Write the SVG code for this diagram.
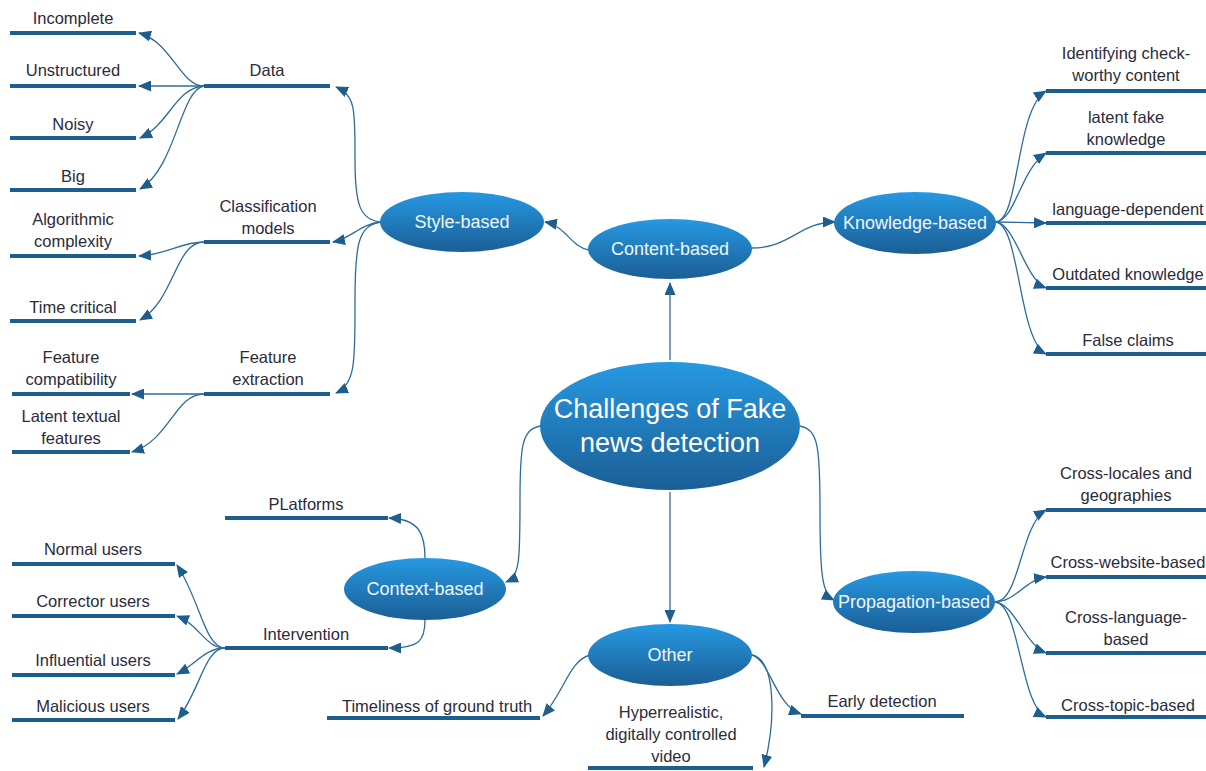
<svg xmlns="http://www.w3.org/2000/svg" width="1206" height="771" viewBox="0 0 1206 771">
<defs>
<linearGradient id="g" x1="0" y1="0" x2="0" y2="1">
<stop offset="0" stop-color="#2699e2"/>
<stop offset="1" stop-color="#1b5e95"/>
</linearGradient>
<marker id="ah" markerUnits="userSpaceOnUse" markerWidth="13" markerHeight="11" refX="12" refY="5.5" orient="auto" viewBox="0 0 13 11">
<path d="M0,0 L13,5.5 L0,11 z" fill="#1d5e8c"/>
</marker>
<style>
.bar{stroke:#1d5e8c;stroke-width:4;fill:none}
.c{stroke:#2e6c9c;stroke-width:1.3;fill:none;marker-end:url(#ah)}
.t{font-family:"Liberation Sans",Arial,sans-serif;font-size:16.5px;fill:#2b2b3b;text-anchor:middle}
.e{fill:url(#g)}
.et{font-family:"Liberation Sans",Arial,sans-serif;font-size:18px;fill:#eef6ff;text-anchor:middle}
.mt{font-family:"Liberation Sans",Arial,sans-serif;font-size:27px;fill:#ffffff;text-anchor:middle}
</style>
</defs>
<rect width="1206" height="771" fill="#ffffff"/>

<g id="connectors">
<path class="c" d="M670,360 L670,283"/>
<path class="c" d="M670,492 L670,622"/>
<path class="c" d="M540,426 C522,430 520,445 520,500 C520,560 520,576 506,582"/>
<path class="c" d="M800,426 C818,430 820,445 820,510 C820,575 822,594 834,600"/>
<path class="c" d="M589,250 C572,248 566,226 545,222"/>
<path class="c" d="M752,248 C790,248 800,222 835,222"/>
<path class="c" d="M381,222 C360,220 355,205 355,160 C355,110 356,96 336,87"/>
<path class="c" d="M381,222 C360,224 352,238 333,242"/>
<path class="c" d="M381,222 C358,225 355,245 355,300 C355,360 356,384 336,393"/>
<path class="c" d="M204,86 C180,86 172,42 139,33"/>
<path class="c" d="M204,86 L139,86"/>
<path class="c" d="M204,86 C175,88 170,124 140,138"/>
<path class="c" d="M204,86 C180,90 176,168 140,189"/>
<path class="c" d="M204,242 C180,242 170,254 139,256"/>
<path class="c" d="M204,242 C175,242 175,300 140,320"/>
<path class="c" d="M204,394 L132,394"/>
<path class="c" d="M204,394 C175,394 170,440 132,452"/>
<path class="c" d="M995,222 C1020,222 1015,110 1046,91"/>
<path class="c" d="M995,222 C1015,222 1020,170 1046,153"/>
<path class="c" d="M995,222 L1046,223"/>
<path class="c" d="M995,222 C1015,222 1025,280 1046,288"/>
<path class="c" d="M995,222 C1020,222 1018,340 1046,354"/>
<path class="c" d="M995,602 C1020,602 1020,525 1046,510"/>
<path class="c" d="M995,602 C1015,602 1025,580 1046,577"/>
<path class="c" d="M995,602 C1015,604 1025,645 1046,653"/>
<path class="c" d="M995,602 C1020,604 1020,705 1046,717"/>
<path class="c" d="M425,558 C425,535 420,519 389,518"/>
<path class="c" d="M425,620 C425,640 420,648 389,648"/>
<path class="c" d="M225,648 C205,648 200,600 177,565"/>
<path class="c" d="M225,648 C205,648 200,625 177,616"/>
<path class="c" d="M225,648 C205,648 195,665 177,674"/>
<path class="c" d="M225,648 C205,648 200,690 178,719"/>
<path class="c" d="M590,655 C570,660 565,690 543,716"/>
<path class="c" d="M752,655 C770,660 775,705 801,714"/>
<path class="c" d="M752,655 C776,660 776,720 764,767"/>
</g>

<g id="n-main"><ellipse class="e" cx="670" cy="426" rx="130" ry="64"/><text class="mt" x="670" y="418">Challenges of Fake</text><text class="mt" x="670" y="452">news detection</text></g>
<g id="n-content"><ellipse class="e" cx="670" cy="249" rx="82" ry="30"/><text class="et" x="670" y="255">Content-based</text></g>
<g id="n-style"><ellipse class="e" cx="462" cy="222" rx="82" ry="30"/><text class="et" x="462" y="228">Style-based</text></g>
<g id="n-knowledge"><ellipse class="e" cx="915" cy="223" rx="81" ry="31"/><text class="et" x="915" y="229">Knowledge-based</text></g>
<g id="n-context"><ellipse class="e" cx="425" cy="589" rx="81" ry="31"/><text class="et" x="425" y="595">Context-based</text></g>
<g id="n-propagation"><ellipse class="e" cx="914" cy="602" rx="81" ry="31"/><text class="et" x="914" y="608">Propagation-based</text></g>
<g id="n-other"><ellipse class="e" cx="670" cy="655" rx="82" ry="31"/><text class="et" x="670" y="661">Other</text></g>

<g id="n-data"><line class="bar" x1="204" y1="86" x2="330" y2="86"/><text class="t" x="267" y="76">Data</text></g>
<g id="n-classification"><line class="bar" x1="204" y1="242" x2="330" y2="242"/><text class="t" x="268" y="212">Classification</text><text class="t" x="268" y="234">models</text></g>
<g id="n-featext"><line class="bar" x1="204" y1="394" x2="330" y2="394"/><text class="t" x="268" y="363">Feature</text><text class="t" x="268" y="385">extraction</text></g>

<g id="n-incomplete"><line class="bar" x1="10" y1="33" x2="136" y2="33"/><text class="t" x="73" y="24">Incomplete</text></g>
<g id="n-unstructured"><line class="bar" x1="10" y1="86" x2="136" y2="86"/><text class="t" x="73" y="76">Unstructured</text></g>
<g id="n-noisy"><line class="bar" x1="10" y1="138" x2="136" y2="138"/><text class="t" x="73" y="130">Noisy</text></g>
<g id="n-big"><line class="bar" x1="10" y1="190" x2="136" y2="190"/><text class="t" x="73" y="182">Big</text></g>
<g id="n-algo"><line class="bar" x1="10" y1="256" x2="136" y2="256"/><text class="t" x="73" y="225">Algorithmic</text><text class="t" x="73" y="247">complexity</text></g>
<g id="n-time"><line class="bar" x1="10" y1="321" x2="136" y2="321"/><text class="t" x="73" y="313">Time critical</text></g>
<g id="n-featcomp"><line class="bar" x1="12" y1="394" x2="130" y2="394"/><text class="t" x="71" y="363">Feature</text><text class="t" x="71" y="385">compatibility</text></g>
<g id="n-latent"><line class="bar" x1="12" y1="452" x2="130" y2="452"/><text class="t" x="71" y="422">Latent textual</text><text class="t" x="71" y="444">features</text></g>

<g id="n-identifying"><line class="bar" x1="1046" y1="91" x2="1206" y2="91"/><text class="t" x="1126" y="59">Identifying check-</text><text class="t" x="1126" y="81">worthy content</text></g>
<g id="n-latentfake"><line class="bar" x1="1046" y1="153" x2="1206" y2="153"/><text class="t" x="1126" y="123">latent fake</text><text class="t" x="1126" y="145">knowledge</text></g>
<g id="n-language"><line class="bar" x1="1046" y1="223" x2="1206" y2="223"/><text class="t" x="1128" y="215">language-dependent</text></g>
<g id="n-outdated"><line class="bar" x1="1046" y1="288" x2="1206" y2="288"/><text class="t" x="1128" y="280">Outdated knowledge</text></g>
<g id="n-false"><line class="bar" x1="1046" y1="354" x2="1206" y2="354"/><text class="t" x="1128" y="346">False claims</text></g>

<g id="n-locales"><line class="bar" x1="1046" y1="510" x2="1206" y2="510"/><text class="t" x="1126" y="479">Cross-locales and</text><text class="t" x="1126" y="501">geographies</text></g>
<g id="n-website"><line class="bar" x1="1046" y1="577" x2="1206" y2="577"/><text class="t" x="1128" y="568">Cross-website-based</text></g>
<g id="n-crosslang"><line class="bar" x1="1046" y1="653" x2="1206" y2="653"/><text class="t" x="1126" y="623">Cross-language-</text><text class="t" x="1126" y="645">based</text></g>
<g id="n-topic"><line class="bar" x1="1046" y1="717" x2="1206" y2="717"/><text class="t" x="1128" y="711">Cross-topic-based</text></g>

<g id="n-platforms"><line class="bar" x1="225" y1="518" x2="388" y2="518"/><text class="t" x="306" y="510">PLatforms</text></g>
<g id="n-intervention"><line class="bar" x1="225" y1="648" x2="388" y2="648"/><text class="t" x="306" y="640">Intervention</text></g>
<g id="n-normal"><line class="bar" x1="12" y1="564" x2="175" y2="564"/><text class="t" x="93" y="555">Normal users</text></g>
<g id="n-corrector"><line class="bar" x1="12" y1="616" x2="175" y2="616"/><text class="t" x="93" y="607">Corrector users</text></g>
<g id="n-influential"><line class="bar" x1="12" y1="675" x2="175" y2="675"/><text class="t" x="93" y="666">Influential users</text></g>
<g id="n-malicious"><line class="bar" x1="12" y1="720" x2="175" y2="720"/><text class="t" x="93" y="712">Malicious users</text></g>

<g id="n-timeliness"><line class="bar" x1="327" y1="718" x2="540" y2="718"/><text class="t" x="437" y="712">Timeliness of ground truth</text></g>
<g id="n-hyper"><line class="bar" x1="588" y1="768" x2="753" y2="768"/><text class="t" x="671" y="718">Hyperrealistic,</text><text class="t" x="671" y="740">digitally controlled</text><text class="t" x="671" y="762">video</text></g>
<g id="n-early"><line class="bar" x1="801" y1="716" x2="964" y2="716"/><text class="t" x="882" y="707">Early detection</text></g>
</svg>
